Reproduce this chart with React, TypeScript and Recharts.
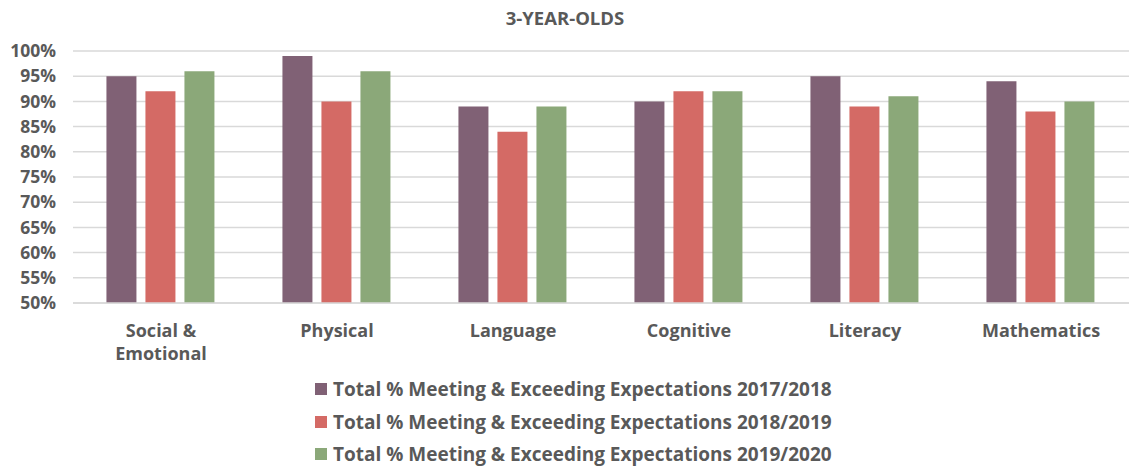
import { FC } from 'react'
import { Bar, BarChart, CartesianGrid, Legend, XAxis, YAxis } from 'recharts'

const categories = ['Social & Emotional', 'Physical', 'Language', 'Cognitive', 'Literacy', 'Mathematics']
const year2017 = [95, 99, 89, 90, 95, 94]
const year2018 = [92, 90, 84, 92, 89, 88]
const year2019 = [96, 96, 89, 92, 91, 90]
const yTicks = [50, 55, 60, 65, 70, 75, 80, 85, 90, 95, 100]

const SERIES = [
    { key: 'y2017', name: 'Total % Meeting & Exceeding Expectations 2017/2018', color: '#806175' },
    { key: 'y2018', name: 'Total % Meeting & Exceeding Expectations 2018/2019', color: '#D46A65' },
    { key: 'y2019', name: 'Total % Meeting & Exceeding Expectations 2019/2020', color: '#8BA879' },
]

const TEXT = '#595959'
const FONT = '"Open Sans", Lato, sans-serif'

const data = categories.map((name, i) => ({
    name,
    y2017: year2017[i],
    y2018: year2018[i],
    y2019: year2019[i],
}))

// split long category names over two lines, like the original
const splitLabel = (label: string): string[] => {
    if (label.length <= 12) return [label]
    const words = label.split(' ')
    const first = words.slice(0, words.length - 1).join(' ')
    return [first, words[words.length - 1]]
}

const CategoryTick: FC<any> = ({ x, y, payload }) => {
    const lines = splitLabel(payload.value)
    return (
        <text x={x} y={y + 26} textAnchor="middle" fill={TEXT} fontSize={18} fontWeight={700} fontFamily={FONT}>
            {lines.map((line, i) => (
                <tspan key={i} x={x} dy={i === 0 ? 0 : 23}>{line}</tspan>
            ))}
        </text>
    )
}

const LegendContent: FC = () => (
    <div style={{ fontFamily: FONT, fontWeight: 700, fontSize: 19, color: TEXT }}>
        {SERIES.map((s) => (
            <div key={s.key} style={{ display: 'flex', alignItems: 'center', height: 32.5 }}>
                <span style={{ width: 12, height: 12, background: s.color, marginRight: 6, display: 'inline-block' }} />
                <span>{s.name}</span>
            </div>
        ))}
    </div>
)

const App: FC = () => {
    return (
        <div style={{ position: 'absolute', left: 0, top: 0, width: 1131, height: 468, background: '#fff' }}>
            <BarChart
                width={1131}
                height={468}
                data={data}
                margin={{ top: 51, right: 2, bottom: 37.5, left: 0 }}
                barCategoryGap="19%"
                barGap={9}
            >
                <text x={565} y={25} textAnchor="middle" fill={TEXT} fontSize={18.5} fontWeight={700} fontFamily={FONT}>
                    3-YEAR-OLDS
                </text>
                <CartesianGrid vertical={false} stroke="#d9d9d9" strokeWidth={1.5} />
                <XAxis
                    dataKey="name"
                    height={30}
                    axisLine={{ stroke: '#d9d9d9', strokeWidth: 1.5 }}
                    tickLine={false}
                    tick={<CategoryTick />}
                    interval={0}
                />
                <YAxis
                    domain={[50, 100]}
                    ticks={yTicks}
                    width={73}
                    axisLine={false}
                    tickLine={false}
                    tickFormatter={(v) => `${v}%`}
                    tick={{ fill: TEXT, fontSize: 17.5, fontWeight: 700, fontFamily: FONT }}
                    tickMargin={11}
                    interval={0}
                    allowDataOverflow
                />
                {SERIES.map((s) => (
                    <Bar key={s.key} dataKey={s.key} name={s.name} fill={s.color} isAnimationActive={false} />
                ))}
                <Legend
                    content={<LegendContent />}
                    wrapperStyle={{ left: 315, top: 373, width: 580 }}
                />
            </BarChart>
        </div>
    )
}

export default App
